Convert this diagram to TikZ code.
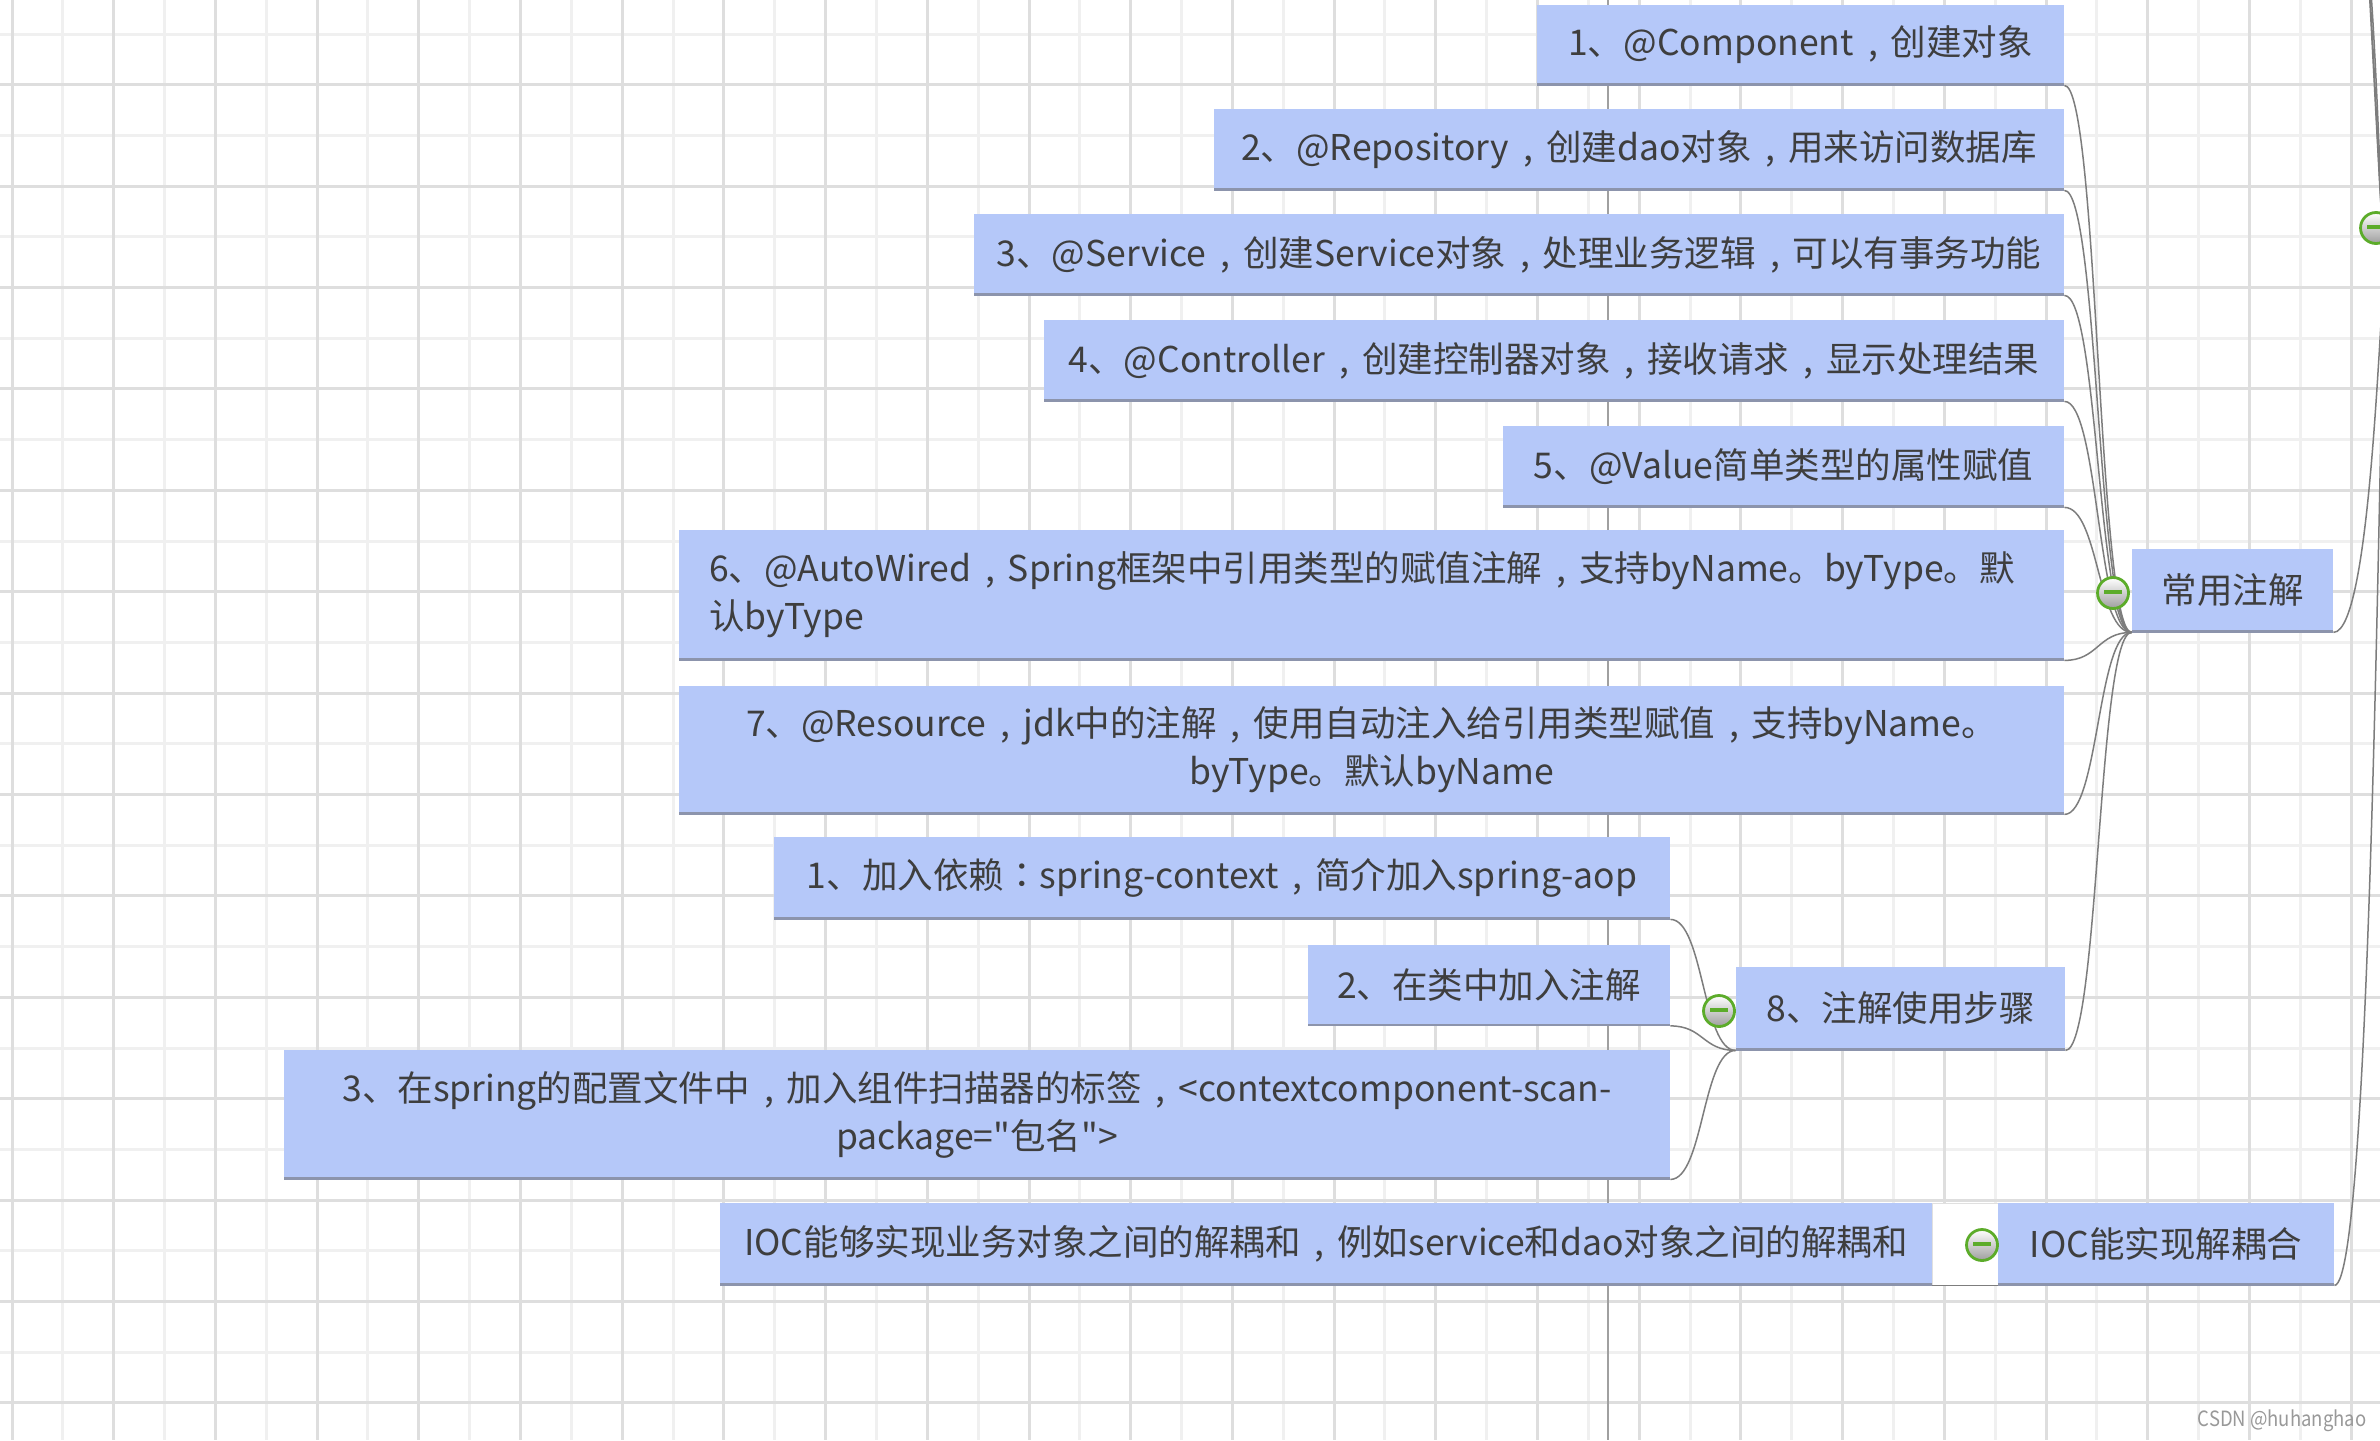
\documentclass[tikz,border=0pt]{standalone}
\usepackage{fontspec}
\setmainfont{Noto Sans CJK SC}[Ligatures=TeXOff]
\newfontfamily\tcfont{Noto Sans CJK TC}[Ligatures=TeXOff]
\newcommand\cmm{\hspace{0.4em},\hspace{0.36em}}
\newcommand\cln{{\tcfont ：}}
\usetikzlibrary{calc}
\definecolor{boxblue}{RGB}{181,200,249}
\definecolor{txt}{RGB}{62,62,62}
\definecolor{gdark}{RGB}{222,222,222}
\definecolor{glight}{RGB}{240,240,240}
\definecolor{tgreen}{RGB}{92,172,42}
\definecolor{conncol}{RGB}{125,125,125}
\definecolor{edgec}{RGB}{140,148,172}
\definecolor{pageline}{RGB}{160,160,160}
\begin{document}
\begin{tikzpicture}[x=0.5pt,y=-0.5pt,
  box/.style={rectangle, fill=boxblue, inner sep=0pt, text=txt,
    font=\fontsize{17.75}{24}\selectfont,
    path picture={\draw[edgec, line width=2pt] (path picture bounding box.south west) -- (path picture bounding box.south east);}},
  tog/.style={circle, draw=tgreen, line width=1.4pt, minimum size=15.5pt, inner sep=0pt,
    top color=white, bottom color=black!38,
    path picture={\draw[tgreen, line width=1.7pt] ([xshift=-4.3pt,yshift=0.6pt]path picture bounding box.center) -- ([xshift=4.3pt,yshift=0.6pt]path picture bounding box.center);}},
  cn/.style={draw=conncol, line width=0.75pt},
  mm/.style={out=0,in=180,out distance=#1,in distance=#1},
  rt/.style={out=0,in=180,out distance=#1,in distance=3pt},
  glinelight/.style={draw=glight, line width=1.5pt},
  glinedark/.style={draw=gdark, line width=1.5pt}
]
\useasboundingbox (0,0) rectangle (2380,1440);
\clip (0,0) rectangle (2380,1440);
\fill[white] (0,0) rectangle (2380,1440);
% grid
\foreach \k in {1,3,...,45} \draw[glinelight] ({12+50.85*\k},0) -- ({12+50.85*\k},1440);
\foreach \k in {0,2,...,26} \draw[glinelight] (0,{34+50.7*\k}) -- (2380,{34+50.7*\k});
\foreach \k in {0,2,...,46} \draw[glinedark] ({12+50.85*\k},0) -- ({12+50.85*\k},1440);
\foreach \k in {1,3,...,27} \draw[glinedark] (0,{34+50.7*\k}) -- (2380,{34+50.7*\k});
\draw[pageline, line width=1pt] (1608,0) -- (1608,1440);

% boxes
\node[box, minimum width=263.5pt, minimum height=40pt] (b1) at (1800.5,45) {1、@Component\cmm 创建对象};
\node[box, minimum width=425pt, minimum height=40.5pt] (b2) at (1639,149.5) {2、@Repository\cmm 创建dao对象\cmm 用来访问数据库};
\node[box, minimum width=545pt, minimum height=40.5pt] (b3) at (1519,254.5) {3、@Service\cmm 创建Service对象\cmm 处理业务逻辑\cmm 可以有事务功能};
\node[box, minimum width=510pt, minimum height=40.5pt] (b4) at (1554,360.5) {4、@Controller\cmm 创建控制器对象\cmm 接收请求\cmm 显示处理结果};
\node[box, minimum width=280.5pt, minimum height=40.5pt] (b5) at (1783.5,466.5) {5、@Value简单类型的属性赋值};
\node[box, minimum width=692.5pt, minimum height=65pt, text width=662.5pt, align=left] (b6) at (1371.5,595) {6、@AutoWired\cmm Spring框架中引用类型的赋值注解\cmm 支持byName。byType。默\\认byType};
\node[box, minimum width=692.5pt, minimum height=64pt, align=center] (b7) at (1371.5,750) {7、@Resource\cmm jdk中的注解\cmm 使用自动注入给引用类型赋值\cmm 支持byName。\\byType。默认byName};
\node[box, minimum width=100.5pt, minimum height=41.5pt] (cy) at (2232.5,590.5) {常用注解};

\node[box, minimum width=448pt, minimum height=41pt] (s1) at (1222,878) {1、加入依赖\cln spring-context\cmm 简介加入spring-aop};
\node[box, minimum width=181pt, minimum height=40.5pt] (s2) at (1489,985) {2、在类中加入注解};
\node[box, minimum width=693pt, minimum height=64.5pt, align=center] (s3) at (977,1114.5) {3、在spring的配置文件中\cmm 加入组件扫描器的标签\cmm <contextcomponent-scan-\\package="包名">};
\node[box, minimum width=164.5pt, minimum height=41.5pt] (s8) at (1900.5,1008.5) {8、注解使用步骤};

\fill[white] (1932,1203) rectangle (1998,1285);
\draw[black!12, line width=0.5pt] (1932,1203) rectangle (1998,1285);
\node[box, minimum width=606pt, minimum height=41pt] (ioc1) at (1326,1244) {IOC能够实现业务对象之间的解耦和\cmm 例如service和dao对象之间的解耦和};
\node[box, minimum width=168pt, minimum height=41pt] (ioc) at (2166,1244) {IOC能实现解耦合};

% root (off canvas)
\coordinate (R) at (2386,268);
\coordinate (U1) at (2330,-420);
\coordinate (U2) at (2340,-260);
\coordinate (U3) at (2350,-130);

% connectors
\foreach \c in {b1,b2,b3,b4,b5,b6,b7,s8}
  \draw[cn] (\c.south east) to[mm=17pt] (cy.south west);
\foreach \c in {s1,s2,s3}
  \draw[cn] (\c.south east) to[mm=16.5pt] (s8.south west);
\draw[cn] (ioc1.south east) -- (ioc.south west);
\draw[cn] (cy.south east) to[rt=20pt] (R);
\draw[cn] (ioc.south east) to[rt=20pt] (R);
\foreach \u in {U1,U2,U3}
  \draw[cn] (\u) to[rt=13pt] (R);

% toggles
\node[tog] (t1) at (2113,593) {};
\node[tog] (t2) at (1719,1011) {};
\node[tog] (t3) at (1982,1245) {};
\node[tog] (t4) at (2376,228) {};

\node[text=black!40, font=\fontsize{10.5}{12}\selectfont, xscale=0.88] (wm) at (2282,1421) {CSDN @huhanghao};
\end{tikzpicture}
\end{document}
